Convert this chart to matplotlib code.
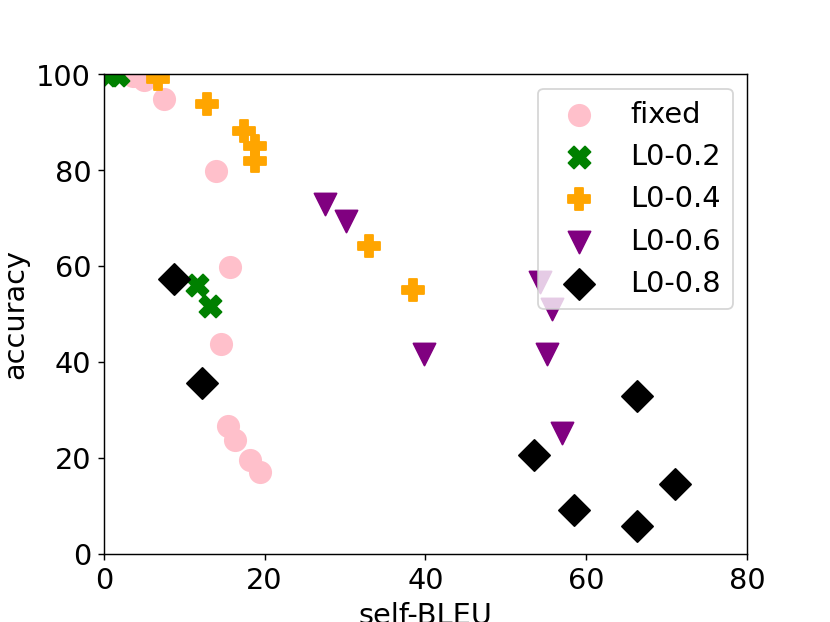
import matplotlib
matplotlib.use("Agg")
import matplotlib.pyplot as plt

fixed_x = [3.6, 5.0, 7.5, 13.9, 15.7, 14.6, 15.4, 16.3, 18.2, 19.4]
fixed_y = [99.6, 98.8, 94.8, 79.8, 59.8, 43.7, 26.7, 23.7, 19.5, 17.1]

l02_x = [0.7, 1.8, 11.6, 13.2]
l02_y = [99.9, 99.8, 56.0, 51.6]

l04_x = [6.7, 12.8, 17.5, 18.8, 18.8, 33.0, 38.4]
l04_y = [98.9, 93.8, 88.1, 85.0, 81.9, 64.2, 55.0]

l06_x = [27.5, 30.1, 39.8, 54.2, 55.8, 55.1, 57.0]
l06_y = [72.9, 69.4, 41.7, 56.7, 51.0, 41.7, 25.2]

l08_x = [8.7, 12.2, 53.5, 58.5, 66.3, 71.0, 66.3]
l08_y = [57.3, 35.6, 20.6, 9.0, 5.8, 14.6, 32.9]

plt.rcParams['font.size'] = 16
fig, ax = plt.subplots(figsize=(6.4, 4.8), dpi=129.7)

ax.scatter(fixed_x, fixed_y, marker='o', color='pink', s=140, label='fixed')
ax.scatter(l02_x, l02_y, marker='X', color='green', s=150, label='L0-0.2')
ax.scatter(l04_x, l04_y, marker='P', color='orange', s=150, label='L0-0.4')
ax.scatter(l06_x, l06_y, marker='v', color='purple', s=150, label='L0-0.6')
ax.scatter(l08_x, l08_y, marker='D', color='black', s=150, label='L0-0.8')

ax.set_xlim(0, 80)
ax.set_ylim(0, 100)
ax.set_xticks([0, 20, 40, 60, 80])
ax.set_yticks([0, 20, 40, 60, 80, 100])
ax.set_xlabel('self-BLEU')
ax.set_ylabel('accuracy')
ax.legend(loc='upper right')

fig.savefig('out.png', dpi=129.7)
